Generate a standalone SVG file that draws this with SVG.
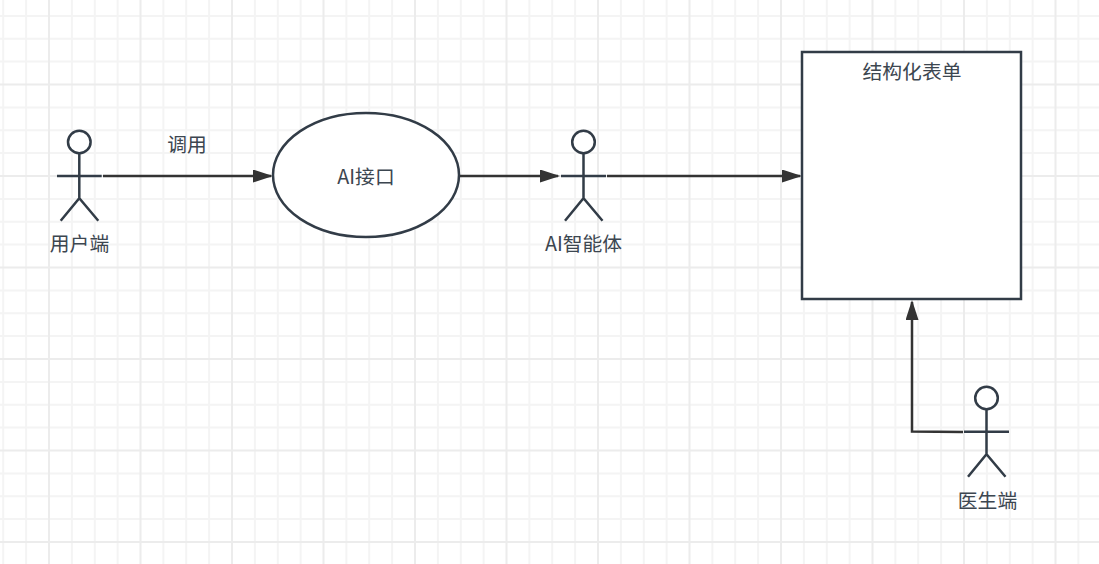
<svg xmlns="http://www.w3.org/2000/svg" width="1099" height="564" viewBox="0 0 1099 564">
<style>
.bg{fill:#fff}
.minor{fill:none;stroke:#f4f4f4;stroke-width:2}
.major{fill:none;stroke:#ececec;stroke-width:2}
.shape{fill:#fff;stroke:#323c47;stroke-width:2.500}
.limb{fill:none;stroke:#323c47;stroke-width:2.500}
.conn{fill:none;stroke:#333;stroke-width:2.500;marker-end:url(#arrow)}
text{font-family:"Noto Sans CJK SC","Liberation Sans",sans-serif;font-size:19.800px;fill:#3c4650;text-anchor:middle}
</style>
<defs>
<marker id="arrow" markerUnits="userSpaceOnUse" markerWidth="20" markerHeight="13" viewBox="0 0 20 13" refX="18" refY="6.500" orient="auto"><path d="M0 0L20 6.500L0 13Z" fill="#333"/></marker>
</defs>
<rect class="bg" width="1099" height="564"/>
<g id="grid">
<path class="minor" d="M3.200 0V564M26.100 0V564M71.900 0V564M94.800 0V564M117.600 0V564M163.400 0V564M186.200 0V564M209.100 0V564M254.900 0V564M277.800 0V564M300.600 0V564M346.400 0V564M369.200 0V564M392.100 0V564M437.900 0V564M460.800 0V564M483.600 0V564M529.400 0V564M552.200 0V564M575.100 0V564M620.900 0V564M643.800 0V564M666.600 0V564M712.400 0V564M735.200 0V564M758.100 0V564M803.900 0V564M826.800 0V564M849.600 0V564M895.400 0V564M918.200 0V564M941.100 0V564M986.900 0V564M1009.800 0V564M1032.600 0V564M1078.400 0V564M0 15.900H1099M0 38.800H1099M0 61.600H1099M0 107.400H1099M0 130.200H1099M0 153.100H1099M0 198.900H1099M0 221.800H1099M0 244.600H1099M0 290.400H1099M0 313.200H1099M0 336.100H1099M0 381.900H1099M0 404.800H1099M0 427.600H1099M0 473.400H1099M0 496.200H1099M0 519.100H1099"/>
<path class="major" d="M49 0V564M140.500 0V564M232 0V564M323.500 0V564M415 0V564M506.500 0V564M598 0V564M689.500 0V564M781 0V564M872.500 0V564M964 0V564M1055.500 0V564M0 84.500H1099M0 176H1099M0 267.500H1099M0 359H1099M0 450.500H1099M0 542H1099"/>
</g>
<g id="connectors">
<path class="conn" d="M103 176H271"/>
<path class="conn" d="M460 176H558"/>
<path class="conn" d="M607 176H800"/>
<path class="conn" d="M963 432L912 431.500V302"/>
</g>
<g id="user">
<circle class="shape" cx="79.300" cy="142" r="11.300"/>
<path class="limb" d="M79.300 153V198.300M57 176H101.700M60.700 220.700L79.300 198.300L98.300 220.700"/>
<text x="79.500" y="251">用户端</text>
</g>
<g id="call-label"><text x="187" y="152">调用</text></g>
<g id="ai-api">
<ellipse class="shape" cx="366" cy="175" rx="93" ry="62"/>
<text x="366" y="184">AI接口</text>
</g>
<g id="ai-agent">
<circle class="shape" cx="583.500" cy="142" r="11.300"/>
<path class="limb" d="M583.500 153V198.300M561 176H606M565 220.700L583.500 198.300L602.500 220.700"/>
<text x="583.500" y="251">AI智能体</text>
</g>
<g id="form">
<rect class="shape" x="802" y="52" width="219" height="247"/>
<text x="912" y="78.500">结构化表单</text>
</g>
<g id="doctor">
<circle class="shape" cx="986.500" cy="398" r="11.300"/>
<path class="limb" d="M986.500 409V454.300M964 431.700H1009M968 476.700L986.500 454.300L1005.500 476.700"/>
<text x="987.500" y="508">医生端</text>
</g>
</svg>
